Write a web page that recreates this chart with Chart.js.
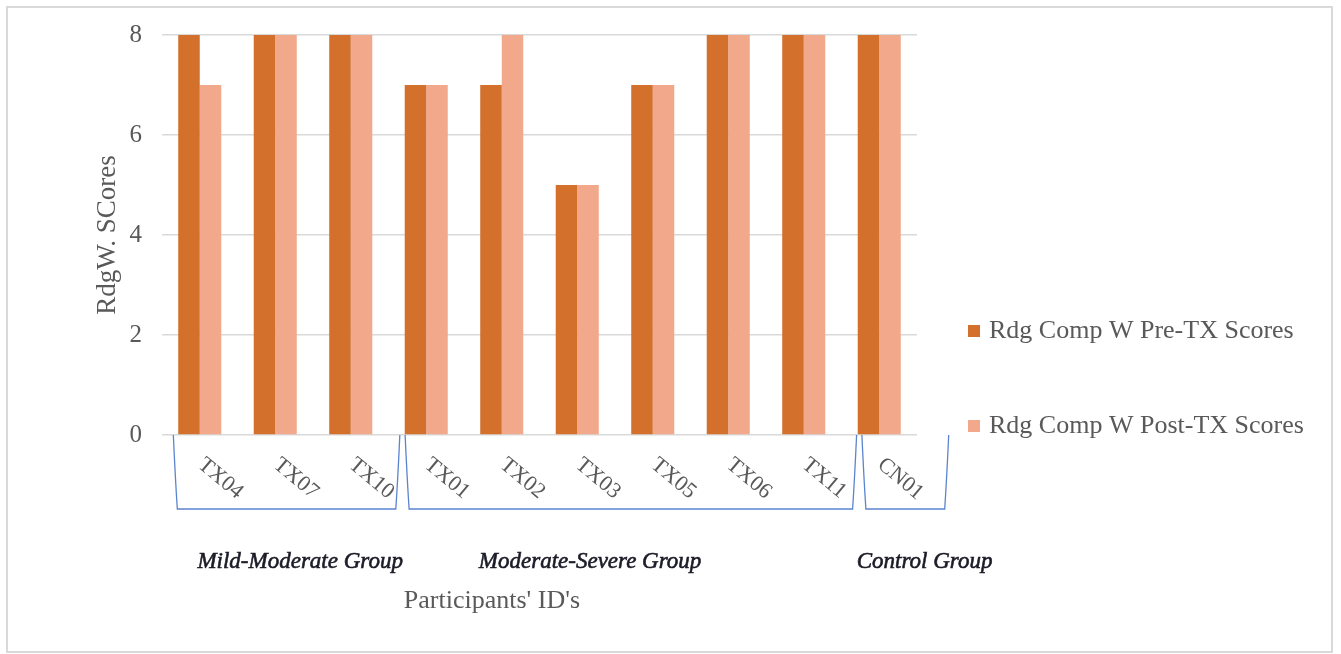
<!DOCTYPE html>
<html>
<head>
<meta charset="utf-8">
<script src="https://cdn.jsdelivr.net/npm/chart.js@4/dist/chart.umd.min.js"></script>
<style>
  html, body { margin: 0; padding: 0; background: #fff; }
  #wrap { width: 1341px; height: 654px; position: relative; }
</style>
</head>
<body>
<div id="wrap"><canvas id="c" width="1341" height="654"></canvas></div>
<script>
// Participants and their reading-comprehension scores
const participants = ['TX04', 'TX07', 'TX10', 'TX01', 'TX02', 'TX03', 'TX05', 'TX06', 'TX11', 'CN01'];
const preScores  = [8, 8, 8, 7, 7, 5, 7, 8, 8, 8];
const postScores = [7, 8, 8, 7, 8, 5, 7, 8, 8, 8];
const seriesNames = ['Rdg Comp W Pre-TX Scores', 'Rdg Comp W Post-TX Scores'];
const yTicks = [0, 2, 4, 6, 8];

// Participant groups: name, first and last participant index
const groupNames = ['Mild-Moderate Group', 'Moderate-Severe Group', 'Control Group'];
const groupFirst = [0, 3, 9];
const groupLast  = [2, 8, 9];

const SERIF = '"Liberation Serif", "Times New Roman", serif';
const TEXT = '#595959';
const PRE_COLOR = '#D2702C';
const POST_COLOR = '#F2A98B';

// Bracket extents and label centres, in category units around each group
const groupLayout = [
  { left: -0.35, right: 0.65, label: 1.33 },
  { left: -0.28, right: 0.70, label: 5.17 },
  { left: -0.23, right: 0.92, label: 9.60 }
];

const overlay = {
  id: 'overlay',
  afterDraw(chart) {
    const ctx = chart.ctx;
    const x = chart.scales.x;
    const area = chart.chartArea;
    ctx.save();

    // outer frame
    ctx.strokeStyle = '#d9d9d9';
    ctx.lineWidth = 2;
    ctx.strokeRect(7, 7, 1325, 645);

    // rotated participant labels
    ctx.fillStyle = TEXT;
    ctx.font = '22px ' + SERIF;
    ctx.textAlign = 'left';
    ctx.textBaseline = 'middle';
    participants.forEach((p, i) => {
      const px = x.getPixelForValue(i);
      ctx.save();
      ctx.translate(px + 1, area.bottom + 27);
      ctx.rotate(40 * Math.PI / 180);
      ctx.fillText(p, 0, 0);
      ctx.restore();
    });

    // group brackets
    ctx.strokeStyle = '#5B84CF';
    ctx.lineWidth = 1.3;
    const top = area.bottom;
    const bottom = area.bottom + 74;
    groupNames.forEach((g, k) => {
      const l = x.getPixelForValue(groupFirst[k] + groupLayout[k].left);
      const r = x.getPixelForValue(groupLast[k] + groupLayout[k].right);
      ctx.beginPath();
      ctx.moveTo(l, top);
      ctx.quadraticCurveTo(l + 2, bottom - 30, l + 4, bottom);
      ctx.lineTo(r - 4, bottom);
      ctx.quadraticCurveTo(r - 2, bottom - 30, r, top);
      ctx.stroke();
    });

    // group names
    ctx.fillStyle = '#1c1c28';
    ctx.strokeStyle = '#1c1c28';
    ctx.lineWidth = 0.6;
    ctx.font = 'italic 23px ' + SERIF;
    ctx.textAlign = 'center';
    ctx.textBaseline = 'middle';
    groupNames.forEach((g, k) => {
      const cx = x.getPixelForValue(groupLayout[k].label);
      ctx.fillText(g, cx, area.bottom + 127);
      ctx.strokeText(g, cx, area.bottom + 127);
    });

    // x axis title
    ctx.fillStyle = TEXT;
    ctx.font = '26px ' + SERIF;
    ctx.fillText("Participants' ID's", x.getPixelForValue(3.87), area.bottom + 166);

    // legend
    const colors = [PRE_COLOR, POST_COLOR];
    ctx.textAlign = 'left';
    ctx.font = '26px ' + SERIF;
    seriesNames.forEach((n, i) => {
      const ly = 331 + i * 95;
      ctx.fillStyle = colors[i];
      ctx.fillRect(968, ly - 6, 12, 12);
      ctx.fillStyle = TEXT;
      ctx.fillText(n, 989, ly);
    });

    ctx.restore();
  }
};

new Chart(document.getElementById('c'), {
  type: 'bar',
  data: {
    labels: participants,
    datasets: [
      { label: seriesNames[0], data: preScores, backgroundColor: PRE_COLOR },
      { label: seriesNames[1], data: postScores, backgroundColor: POST_COLOR }
    ]
  },
  options: {
    responsive: false,
    animation: false,
    layout: { padding: { left: 0, right: 424, top: 35, bottom: 0 } },
    plugins: { legend: { display: false }, tooltip: { enabled: false } },
    datasets: { bar: { categoryPercentage: 0.57, barPercentage: 1.0 } },
    scales: {
      x: {
        grid: { display: false },
        border: { display: false },
        ticks: { display: false },
        afterFit(s) { s.height = 219; }
      },
      y: {
        min: 0, max: 8,
        afterBuildTicks(s) { s.ticks = yTicks.map(v => ({ value: v })); },
        grid: { color: '#d9d9d9', lineWidth: 1.5, drawTicks: false },
        border: { display: false },
        ticks: { color: TEXT, font: { family: SERIF, size: 25 }, padding: 20 },
        title: {
          display: true, text: 'RdgW. SCores', color: TEXT,
          font: { family: SERIF, size: 27 }, padding: { top: 92, bottom: 0 }
        },
        afterFit(s) { s.width = 162; }
      }
    }
  },
  plugins: [overlay]
});
</script>
</body>
</html>
